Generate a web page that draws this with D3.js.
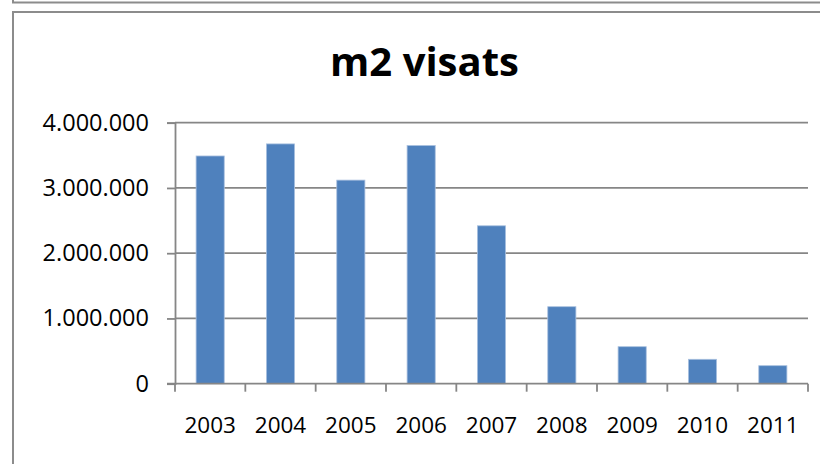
<!DOCTYPE html>
<html>
<head>
<meta charset="utf-8">
<script src="https://cdn.jsdelivr.net/npm/d3@7"></script>
<style>
  body { margin: 0; background: #fff; }
  svg { display: block; }
  .tick-label { font-family: "Open Sans", sans-serif; font-size: 22.5px; fill: #000; }
  .y-label { font-size: 23.5px; }
  .title { font-family: "Open Sans", sans-serif; font-size: 40px; font-weight: bold; fill: #000; }
</style>
</head>
<body>
<div id="chart"></div>
<script>
// data
const years = ["2003", "2004", "2005", "2006", "2007", "2008", "2009", "2010", "2011"];
const m2Values = [3490000, 3675000, 3120000, 3650000, 2420000, 1180000, 567000, 374000, 276000];
const yTicks = [0, 1000000, 2000000, 3000000, 4000000];

const width = 820, height = 464;
const plot = { left: 175, right: 808, top: 122.7, bottom: 383.7 };
const lineColour = "#868686";

const svg = d3.select("#chart")
    .append("svg")
    .attr("width", width)
    .attr("height", height);

// outer frames (chart area borders)
svg.append("path")
    .attr("d", `M13,0 V2.5 H${width}`)
    .attr("fill", "none")
    .attr("stroke", "#8c8c8c")
    .attr("stroke-width", 2);

svg.append("path")
    .attr("d", `M13,${height} V12 H${width}`)
    .attr("fill", "none")
    .attr("stroke", "#8c8c8c")
    .attr("stroke-width", 2);

// number format with dots for thousands
const locale = d3.formatLocale({ decimal: ",", thousands: ".", grouping: [3], currency: ["", ""] });
const fmt = locale.format(",.0f");

const x = d3.scaleBand()
    .domain(years)
    .range([plot.left, plot.right])
    .paddingInner(0.6)
    .paddingOuter(0.3);

const y = d3.scaleLinear()
    .domain([0, 4000000])
    .range([plot.bottom, plot.top]);

// gridlines
svg.append("g")
    .selectAll("line")
    .data(yTicks.filter(d => d > 0))
    .join("line")
    .attr("x1", plot.left)
    .attr("x2", plot.right)
    .attr("y1", d => y(d))
    .attr("y2", d => y(d))
    .attr("stroke", lineColour)
    .attr("stroke-width", 1.8);

// bars
svg.append("g")
    .selectAll("rect")
    .data(years)
    .join("rect")
    .attr("x", (d, i) => x(d))
    .attr("y", (d, i) => y(m2Values[i]))
    .attr("width", x.bandwidth())
    .attr("height", (d, i) => y(0) - y(m2Values[i]))
    .attr("fill", "#4f81bd")
    .attr("stroke", "#a9c0df")
    .attr("stroke-width", 0.8);

// y axis
const leftAxis = d3.axisLeft(y)
    .tickValues(yTicks)
    .tickSize(8)
    .tickPadding(18)
    .tickFormat(fmt);

const yAxisG = svg.append("g")
    .attr("transform", `translate(${plot.left}, 0)`)
    .call(leftAxis);
yAxisG.select(".domain").attr("stroke", lineColour).attr("stroke-width", 1.8);
yAxisG.selectAll(".tick line").attr("stroke", lineColour).attr("stroke-width", 1.8);
yAxisG.selectAll(".tick text")
    .attr("class", "tick-label y-label")
    .attr("font-family", null)
    .attr("font-size", null);

// x axis line and category ticks at band boundaries
const xBaseline = y(0);
svg.append("line")
    .attr("x1", plot.left - 8)
    .attr("x2", plot.right)
    .attr("y1", xBaseline)
    .attr("y2", xBaseline)
    .attr("stroke", lineColour)
    .attr("stroke-width", 1.8);

const boundaries = d3.range(years.length + 1).map(i => x.range()[0] + i * x.step());
svg.append("g")
    .selectAll("line")
    .data(boundaries)
    .join("line")
    .attr("x1", d => d)
    .attr("x2", d => d)
    .attr("y1", xBaseline)
    .attr("y2", xBaseline + 8)
    .attr("stroke", lineColour)
    .attr("stroke-width", 1.8);

svg.append("g")
    .selectAll("text")
    .data(years)
    .join("text")
    .attr("class", "tick-label")
    .attr("x", d => x(d) + x.bandwidth() / 2)
    .attr("y", xBaseline + 49.5)
    .attr("text-anchor", "middle")
    .text(d => d);

// title
svg.append("text")
    .attr("class", "title")
    .attr("x", 424.5)
    .attr("y", 75.7)
    .attr("text-anchor", "middle")
    .text("m2 visats");
</script>
</body>
</html>
